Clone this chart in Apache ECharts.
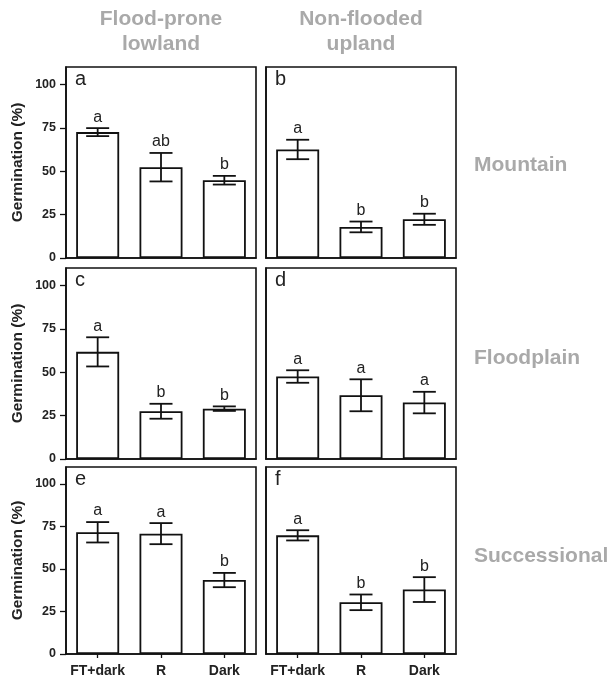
<!DOCTYPE html>
<html>
<head>
<meta charset="utf-8">
<script src="https://cdn.jsdelivr.net/npm/echarts@6/dist/echarts.min.js"></script>
<style>
html,body{margin:0;padding:0;background:#fff;}
#chart{width:611px;height:678px;}
</style>
</head>
<body>
<div id="chart"></div>
<script>
// ---- data ----
const categories = ['FT+dark', 'R', 'Dark'];
const yTicks = [0, 25, 50, 75, 100];
const panelNames = ['a', 'b', 'c', 'd', 'e', 'f'];
const columnTitles = ['Flood-prone\nlowland', 'Non-flooded\nupland'];
const rowTitles = ['Mountain', 'Floodplain', 'Successional'];

const meanA = [72.5, 52.3, 44.8];
const errA = [2.3, 8.2, 2.5];
const letA = ['a', 'ab', 'b'];

const meanB = [62.5, 17.9, 22.3];
const errB = [5.6, 3.1, 3.2];
const letB = ['a', 'b', 'b'];

const meanC = [61.7, 27.5, 29.0];
const errC = [8.4, 4.3, 1.3];
const letC = ['a', 'b', 'b'];

const meanD = [47.5, 36.7, 32.5];
const errD = [3.6, 9.2, 6.2];
const letD = ['a', 'a', 'a'];

const meanE = [71.6, 70.8, 43.5];
const errE = [6.0, 6.2, 4.2];
const letE = ['a', 'a', 'b'];

const meanF = [69.8, 30.4, 37.9];
const errF = [3.0, 4.6, 7.3];
const letF = ['a', 'b', 'b'];

const panels = [
  [meanA, errA, letA], [meanB, errB, letB],
  [meanC, errC, letC], [meanD, errD, letD],
  [meanE, errE, letE], [meanF, errF, letF]
];

// ---- layout ----
const FONT = "'Liberation Sans', Arial, sans-serif";
const colLeft = [66, 266];
const colWidth = 190;
const rowTop = [67, 268, 467];
const rowHeight = 191;

const chart = echarts.init(document.getElementById('chart'));
const grid = [], xAxis = [], yAxis = [], series = [], graphic = [];

panels.forEach((p, k) => {
  const r = Math.floor(k / 2), c = k % 2;
  const [means, errs, lets] = p;
  grid.push({
    left: colLeft[c], top: rowTop[r], width: colWidth, height: rowHeight,
    show: true, borderColor: '#111', borderWidth: 1.6, backgroundColor: 'transparent'
  });
  xAxis.push({
    type: 'category', gridIndex: k, data: categories,
    axisLine: {show: true, lineStyle: {color: '#111', width: 1.6}},
    axisTick: {show: r === 2, alignWithLabel: true, interval: 0, length: 4, lineStyle: {color: '#111', width: 1.3}},
    axisLabel: {show: r === 2, interval: 0, color: '#222', fontFamily: FONT, fontWeight: 'bold', fontSize: 14, margin: 10},
    splitLine: {show: false}
  });
  yAxis.push({
    type: 'value', gridIndex: k, min: 0, max: 110, interval: 25,
    axisLine: {show: true, lineStyle: {color: '#111', width: 1.6}},
    axisTick: {show: c === 0, length: 6, customValues: yTicks, lineStyle: {color: '#111', width: 1.3}},
    axisLabel: {show: c === 0, customValues: yTicks, color: '#222', fontFamily: FONT, fontWeight: 'bold', fontSize: 12.5, margin: 10},
    splitLine: {show: false},
    name: c === 0 ? 'Germination (%)' : '',
    nameLocation: 'middle', nameRotate: 90, nameGap: 40,
    nameTextStyle: {color: '#222', fontFamily: FONT, fontWeight: 'bold', fontSize: 15.5}
  });
  series.push({
    type: 'bar', xAxisIndex: k, yAxisIndex: k, data: means, barWidth: 43,
    itemStyle: {color: '#fff', borderColor: '#111', borderWidth: 1.8},
    silent: true, animation: false
  });
  series.push({
    type: 'custom', xAxisIndex: k, yAxisIndex: k,
    data: means.map((m, i) => [i, m, errs[i]]),
    animation: false, silent: true, z: 5,
    renderItem: function (params, api) {
      const i = api.value(0), m = api.value(1), e = api.value(2);
      const top = api.coord([i, m + e]);
      const bot = api.coord([i, m - e]);
      const hw = 11.5;
      const st = {stroke: '#111', lineWidth: 1.8};
      return {
        type: 'group',
        children: [
          {type: 'line', shape: {x1: top[0], y1: top[1], x2: bot[0], y2: bot[1]}, style: st},
          {type: 'line', shape: {x1: top[0] - hw, y1: top[1], x2: top[0] + hw, y2: top[1]}, style: st},
          {type: 'line', shape: {x1: bot[0] - hw, y1: bot[1], x2: bot[0] + hw, y2: bot[1]}, style: st},
          {type: 'text', style: {text: lets[params.dataIndex], x: top[0], y: top[1] - 11,
            align: 'center', verticalAlign: 'middle', fill: '#222', font: '16px ' + FONT}}
        ]
      };
    }
  });
  graphic.push({
    type: 'text', left: colLeft[c] + 9, top: rowTop[r] + 2,
    style: {text: panelNames[k], fill: '#222', font: '20px ' + FONT}
  });
});

columnTitles.forEach((t, c) => {
  graphic.push({
    type: 'text', x: colLeft[c] + colWidth / 2, y: 32,
    style: {text: t, fill: '#a9a9a9', font: 'bold 21px ' + FONT, align: 'center', verticalAlign: 'middle', lineHeight: 25}
  });
});
rowTitles.forEach((t, r) => {
  graphic.push({
    type: 'text', x: 474, y: [165, 358, 556][r],
    style: {text: t, fill: '#a9a9a9', font: 'bold 21px ' + FONT, align: 'left', verticalAlign: 'middle'}
  });
});

chart.setOption({
  animation: false,
  grid, xAxis, yAxis, series, graphic
});
</script>
</body>
</html>
